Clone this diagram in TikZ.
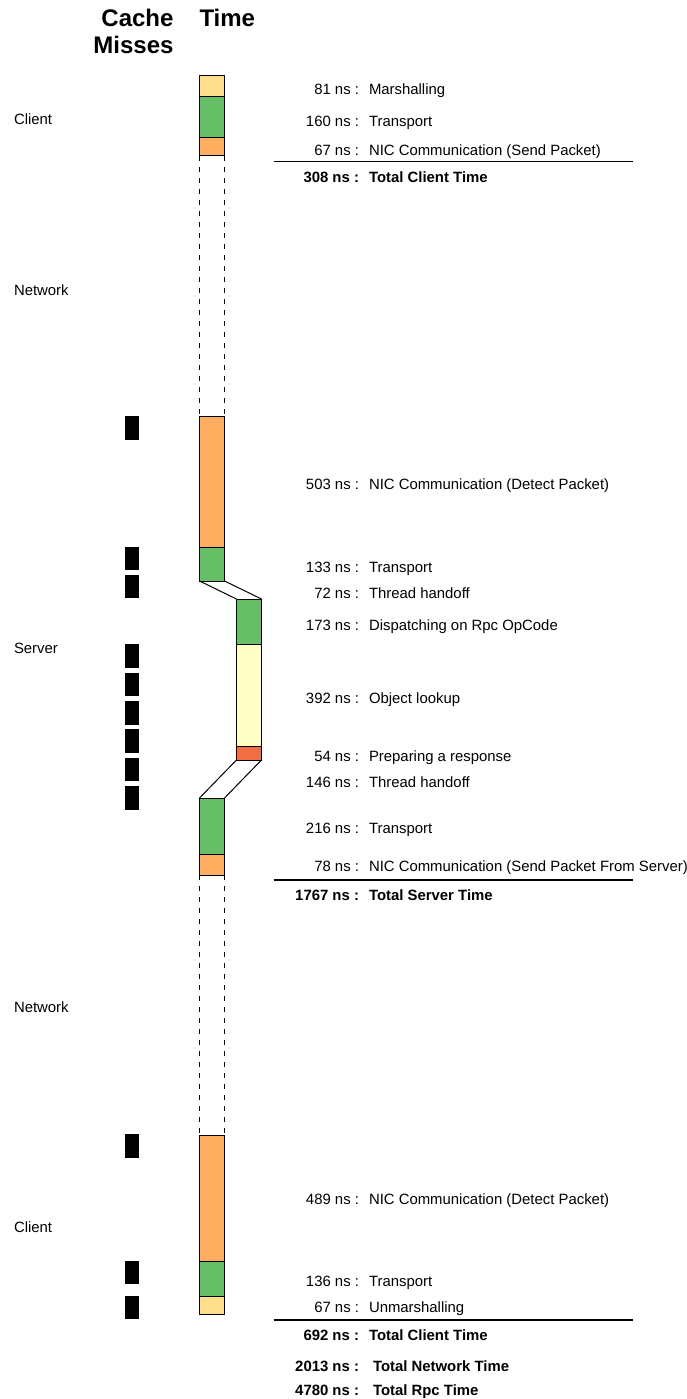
\documentclass[tikz,border=0pt]{standalone}
\usepackage{fontspec}
\setmainfont{Liberation Sans}
\definecolor{marsh}{RGB}{255,222,140}
\definecolor{grn}{RGB}{102,191,102}
\definecolor{org}{RGB}{255,173,94}
\definecolor{lyel}{RGB}{255,255,198}
\definecolor{redo}{RGB}{242,110,66}
\begin{document}
\begin{tikzpicture}[x=1pt,y=-1pt,
  seg/.style={draw=black, line width=1pt, rectangle, minimum width=25pt, inner sep=0pt, outer sep=0pt},
  miss/.style={fill=black, rectangle, minimum width=14pt, minimum height=23.5pt, inner sep=0pt},
  lbl/.style={font=\fontsize{14.9}{17}\selectfont, inner sep=0pt, outer sep=0pt},
  num/.style={lbl, anchor=base east},
  desc/.style={lbl, anchor=base west},
  tnum/.style={lbl, anchor=base east, font=\fontsize{14.9}{17}\selectfont\bfseries},
  tdesc/.style={lbl, anchor=base west, font=\fontsize{14.9}{17}\selectfont\bfseries},
  hdr/.style={font=\fontsize{24}{27}\selectfont\bfseries, inner sep=0pt, outer sep=0pt},
  gap/.style={draw=black, line width=0.8pt, dash pattern=on 5pt off 6pt},
  conn/.style={draw=black, line width=1pt},
  rule/.style={draw=black, line width=1.3pt}
]
\useasboundingbox (0,0) rectangle (686,1399);

% headers
\node[hdr, anchor=base east] (h1) at (173.5,27) {Cache};
\node[hdr, anchor=base east] (h2) at (173.5,53.3) {Misses};
\node[hdr, anchor=base west] (h3) at (199.5,27) {Time};

% side labels
\node[desc] (l1) at (14,124.5) {Client};
\node[desc] (l2) at (14,295.5) {Network};
\node[desc] (l3) at (14,653.5) {Server};
\node[desc] (l4) at (14,1012.5) {Network};
\node[desc] (l5) at (14,1232.5) {Client};

% client (send)
\node[seg, fill=marsh, minimum height=21pt] (cm) at (212,86.5) {};
\node[seg, fill=grn, minimum height=41pt] (ct) at (212,117.5) {};
\node[seg, fill=org, minimum height=18pt] (cn) at (212,147) {};

% server
\node[seg, fill=org, minimum height=131pt] (sn) at (212,481.5) {};
\node[seg, fill=grn, minimum height=34pt] (st) at (212,564) {};
\node[seg, fill=grn, minimum height=45pt] (sd) at (249,621.5) {};
\node[seg, fill=lyel, minimum height=102pt] (so) at (249,695) {};
\node[seg, fill=redo, minimum height=14pt] (sp) at (249,753) {};
\node[seg, fill=grn, minimum height=56pt] (st2) at (212,826) {};
\node[seg, fill=org, minimum height=21pt] (sn2) at (212,864.5) {};

% client (receive)
\node[seg, fill=org, minimum height=126pt] (bn) at (212,1198) {};
\node[seg, fill=grn, minimum height=35pt] (bt) at (212,1278.5) {};
\node[seg, fill=marsh, minimum height=18pt] (bu) at (212,1305) {};

% network gaps
\draw[gap] (cn.south west) -- (sn.north west);
\draw[gap] (cn.south east) -- (sn.north east);
\draw[gap] (sn2.south west) -- (bn.north west);
\draw[gap] (sn2.south east) -- (bn.north east);

% thread handoffs
\draw[conn] (st.south west) -- (sd.north west);
\draw[conn] (st.south east) -- (sd.north east);
\draw[conn] (sp.south west) -- (st2.north west);
\draw[conn] (sp.south east) -- (st2.north east);

% cache misses
\node[miss] (m1) at (131.5,427.75) {};
\node[miss] (m2) at (131.5,558.25) {};
\node[miss] (m3) at (131.5,586.5) {};
\node[miss] (m4) at (131.5,656) {};
\node[miss] (m5) at (131.5,684.25) {};
\node[miss] (m6) at (131.5,712.75) {};
\node[miss] (m7) at (131.5,741) {};
\node[miss] (m8) at (131.5,769.25) {};
\node[miss] (m9) at (131.5,797.75) {};
\node[miss] (m10) at (131.5,1146) {};
\node[miss] (m11) at (131.5,1272.25) {};
\node[miss] (m12) at (131.5,1307.5) {};

% labels client send
\node[num] (n1) at (359,94.5) {81 ns :};
\node[desc] (d1) at (369,94.5) {Marshalling};
\node[num] (n2) at (359,126.5) {160 ns :};
\node[desc] (d2) at (369,126.5) {Transport};
\node[num] (n3) at (359,155.5) {67 ns :};
\node[desc] (d3) at (369,155.5) {NIC Communication (Send Packet)};
\coordinate (r1a) at (273.5,161.5);
\coordinate (r1b) at (632.5,161.5);
\draw[rule] (r1a) -- (r1b);
\node[tnum] (n4) at (359,182.5) {308 ns :};
\node[tdesc] (d4) at (369,182.5) {Total Client Time};

% labels server
\node[num] (n5) at (359,489.5) {503 ns :};
\node[desc] (d5) at (369,489.5) {NIC Communication (Detect Packet)};
\node[num] (n6) at (359,572.5) {133 ns :};
\node[desc] (d6) at (369,572.5) {Transport};
\node[num] (n7) at (359,598.5) {72 ns :};
\node[desc] (d7) at (369,598.5) {Thread handoff};
\node[num] (n8) at (359,630.5) {173 ns :};
\node[desc] (d8) at (369,630.5) {Dispatching on Rpc OpCode};
\node[num] (n9) at (359,703.5) {392 ns :};
\node[desc] (d9) at (369,703.5) {Object lookup};
\node[num] (n10) at (359,761.5) {54 ns :};
\node[desc] (d10) at (369,761.5) {Preparing a response};
\node[num] (n11) at (359,787.5) {146 ns :};
\node[desc] (d11) at (369,787.5) {Thread handoff};
\node[num] (n12) at (359,833.5) {216 ns :};
\node[desc] (d12) at (369,833.5) {Transport};
\node[num] (n13) at (359,871.5) {78 ns :};
\node[desc] (d13) at (369,871.5) {NIC Communication (Send Packet From Server)};
\coordinate (r2a) at (273.5,880);
\coordinate (r2b) at (632.5,880);
\draw[rule] (r2a) -- (r2b);
\node[tnum] (n14) at (359,900.5) {1767 ns :};
\node[tdesc] (d14) at (369,900.5) {Total Server Time};

% labels client receive
\node[num] (n15) at (359,1204.5) {489 ns :};
\node[desc] (d15) at (369,1204.5) {NIC Communication (Detect Packet)};
\node[num] (n16) at (359,1286.5) {136 ns :};
\node[desc] (d16) at (369,1286.5) {Transport};
\node[num] (n17) at (359,1312.5) {67 ns :};
\node[desc] (d17) at (369,1312.5) {Unmarshalling};
\coordinate (r3a) at (273.5,1320);
\coordinate (r3b) at (632.5,1320);
\draw[rule] (r3a) -- (r3b);
\node[tnum] (n18) at (359,1340.5) {692 ns :};
\node[tdesc] (d18) at (369,1340.5) {Total Client Time};
\node[tnum] (n19) at (359,1371.5) {2013 ns :};
\node[tdesc] (d19) at (373,1371.5) {Total Network Time};
\node[tnum] (n20) at (359,1395.5) {4780 ns :};
\node[tdesc] (d20) at (373,1395.5) {Total Rpc Time};
\end{tikzpicture}
\end{document}
